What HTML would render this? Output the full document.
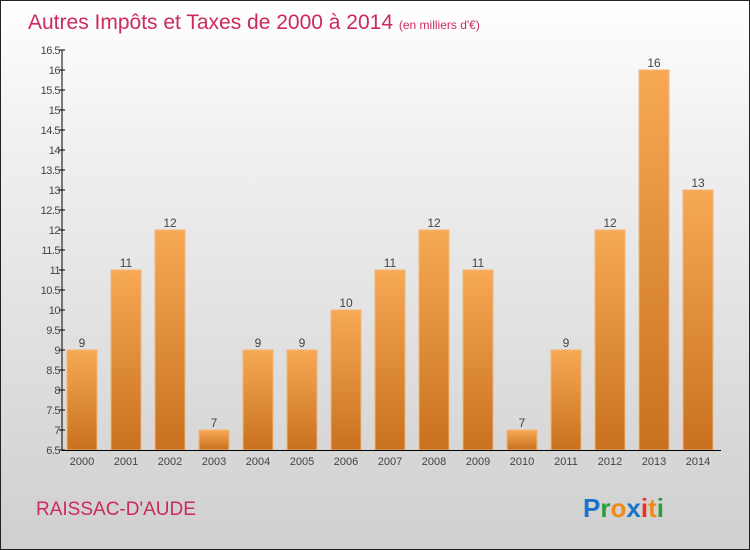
<!DOCTYPE html>
<html><head><meta charset="utf-8"><style>
body{margin:0}
#c{position:relative;width:748px;height:548px;border:1px solid #222;background:linear-gradient(#fff,#f3f3f3 20%,#cfcfcf);font-family:"Liberation Sans",sans-serif;overflow:hidden}
</style></head><body>
<div id="c">
<svg id="s" width="748" height="548" style="position:absolute;left:0;top:0">
<defs><linearGradient id="g" x1="0" y1="0" x2="0" y2="1"><stop offset="0" stop-color="#f7a954"/><stop offset="1" stop-color="#c8711f"/></linearGradient></defs>
<text x="27" y="28" font-size="21" fill="#cc2a5a">Autres Impôts et Taxes de 2000 à 2014 <tspan font-size="12">(en milliers d'€)</tspan></text>
<text x="35" y="514" font-size="19" fill="#cc2a5a">RAISSAC-D'AUDE</text>
<g font-size="26" font-weight="bold">
<text x="582" y="516"><tspan fill="#1a73c9">P</tspan><tspan fill="#2a9d3a">r</tspan><tspan fill="#f08a1a">o</tspan><tspan fill="#1a73c9">x</tspan><tspan fill="#e8321e">i</tspan><tspan fill="#f08a1a">t</tspan><tspan fill="#2a9d3a">i</tspan></text></g>
<g id="plot"></g>
</svg>
</div>
<script>
const years=["2000","2001","2002","2003","2004","2005","2006","2007","2008","2009","2010","2011","2012","2013","2014"];
const values=[9,11,12,7,9,9,10,11,12,11,7,9,12,16,13];
const ticks=[6.5,7,7.5,8,8.5,9,9.5,10,10.5,11,11.5,12,12.5,13,13.5,14,14.5,15,15.5,16,16.5];
const ns="http://www.w3.org/2000/svg",p=document.getElementById('plot');
const yMin=6.5,yMax=16.5,topY=49,botY=449,leftX=61,rightX=720;
const y=v=>botY-(v-yMin)/(yMax-yMin)*(botY-topY);
const x=i=>81+i*44;
function mk(t,a){const e=document.createElementNS(ns,t);for(const k in a)e.setAttribute(k,a[k]);p.appendChild(e);return e;}
values.forEach((v,i)=>{
 const r=mk('rect',{x:x(i)-15,y:y(v),width:30,height:botY-y(v),fill:'url(#g)',stroke:'#f3b57a','stroke-width':1});
 
 
 const t=mk('text',{x:x(i),y:y(v)-3,'text-anchor':'middle','font-size':12,fill:'#444'});t.textContent=v;
 
 
 const l=mk('text',{x:x(i),y:botY+15,'text-anchor':'middle','font-size':11,fill:'#444'});l.textContent=years[i];
 
 
});
const ya=mk('line',{x1:leftX,y1:topY,x2:leftX,y2:botY,stroke:'#000'});


const xa=mk('line',{x1:leftX,y1:botY+0.5,x2:rightX,y2:botY+0.5,stroke:'#000'});


ticks.forEach(v=>{
 mk('line',{x1:leftX-3,y1:y(v),x2:leftX+3,y2:y(v),stroke:'#000'});
 const t=mk('text',{x:leftX-2,y:y(v)+4,'text-anchor':'end','font-size':11,fill:'#444','letter-spacing':'-0.5'});t.textContent=v;
 
 
});
</script>
</body></html>
